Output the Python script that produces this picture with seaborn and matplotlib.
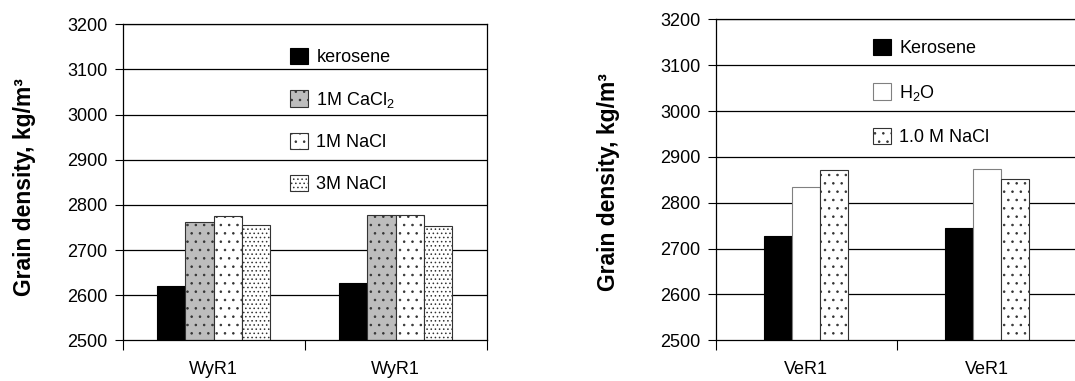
import matplotlib
matplotlib.use("Agg")
import matplotlib.pyplot as plt
import seaborn as sns
import pandas as pd
import numpy as np

# ---- data ----
left_categories = ["WyR1", "WyR1"]
left_series = ["kerosene", "1M CaCl$_2$", "1M NaCl", "3M NaCl"]
left_kerosene = [2621, 2626]
left_cacl2 = [2761, 2777]
left_nacl1 = [2775, 2777]
left_nacl3 = [2755, 2753]

right_categories = ["VeR1", "VeR1"]
right_series = ["Kerosene", "H$_2$O", "1.0 M NaCl"]
right_kerosene = [2727, 2745]
right_h2o = [2835, 2873]
right_nacl = [2871, 2852]

yticks = [2500, 2600, 2700, 2800, 2900, 3000, 3100, 3200]
ylabel = "Grain density, kg/m³"

sns.set_theme(style="white")
plt.rcParams['font.family'] = ['Liberation Sans', 'DejaVu Sans']
plt.rcParams['mathtext.fontset'] = 'custom'
plt.rcParams['mathtext.rm'] = 'Liberation Sans'
plt.rcParams['mathtext.it'] = 'Liberation Sans'
plt.rcParams['hatch.linewidth'] = 0.6
for k in ['text.color', 'axes.labelcolor', 'xtick.color', 'ytick.color']:
    plt.rcParams[k] = 'black'

FS = 13

fig = plt.figure(figsize=(10.75, 3.81), dpi=100)
axL = fig.add_axes([0.1141, 0.1068, 0.3386, 0.8294])
axR = fig.add_axes([0.6658, 0.1068, 0.3367, 0.8425])


def make_df(cats, series, values):
    rows = []
    for s, vals in zip(series, values):
        for i, v in enumerate(vals):
            rows.append({"pos": str(i), "series": s, "value": v})
    return pd.DataFrame(rows)


def draw(ax, cats, series, values, styles, width):
    df = make_df(cats, series, values)
    sns.barplot(data=df, x="pos", y="value", hue="series", order=[str(i) for i in range(len(cats))],
                hue_order=series, width=width, gap=0, ax=ax, legend=False,
                edgecolor="black", linewidth=0.8, saturation=1,
                palette=["white"] * len(series))
    handles = []
    for cont, (fc, ec, hatch) in zip(ax.containers, styles):
        for p in cont:
            p.set_facecolor(fc)
            p.set_edgecolor(ec)
            p.set_hatch(hatch)
        handles.append(cont[0])
    ax.set_ylim(2500, 3200)
    ax.set_yticks(yticks)
    ax.set_yticklabels([str(t) for t in yticks], fontsize=FS)
    ax.set_xlim(-0.5, len(cats) - 0.5)
    ax.set_xticks(range(len(cats)))
    ax.set_xticklabels(cats, fontsize=FS)
    ax.set_xticks(np.arange(-0.5, len(cats), 1.0), minor=True)
    ax.tick_params(axis="x", which="major", length=0, pad=15)
    ax.tick_params(axis="x", which="minor", length=7, width=0.8, color="black", direction="out", bottom=True)
    ax.tick_params(axis="y", length=6, width=0.8, color="black", direction="out", left=True, pad=5)
    for y in yticks[1:]:
        ax.axhline(y, color="black", lw=0.9, zorder=0.5)
    ax.grid(False)
    ax.set_xlabel("")
    ax.set_ylabel(ylabel, fontsize=16.5, fontweight="bold")
    for s in ax.spines.values():
        s.set_color("black")
        s.set_linewidth(0.9)
    return handles


hL = draw(axL, left_categories, left_series,
          [left_kerosene, left_cacl2, left_nacl1, left_nacl3],
          [("black", "black", ""), ("#bdbdbd", "#333333", ".."),
           ("white", "#333333", ".."), ("white", "#333333", "....")], 0.62)
hR = draw(axR, right_categories, right_series,
          [right_kerosene, right_h2o, right_nacl],
          [("black", "black", ""), ("white", "#808080", ""),
           ("white", "#333333", "..")], 0.466)

axL.yaxis.set_label_coords(-0.238, 0.485)
axR.yaxis.set_label_coords(-0.264, 0.493)

axL.legend(hL, left_series, loc="upper left", bbox_to_anchor=(0.46, 0.925), frameon=False,
           fontsize=FS, handlelength=1.0, handleheight=1.0, handletextpad=0.45,
           labelspacing=1.3, borderpad=0, borderaxespad=0)
axR.legend(hR, right_series, loc="upper left", bbox_to_anchor=(0.434, 0.938), frameon=False,
           fontsize=FS, handlelength=1.0, handleheight=1.0, handletextpad=0.45,
           labelspacing=1.4, borderpad=0, borderaxespad=0)

fig.savefig("out.png", dpi=100)
